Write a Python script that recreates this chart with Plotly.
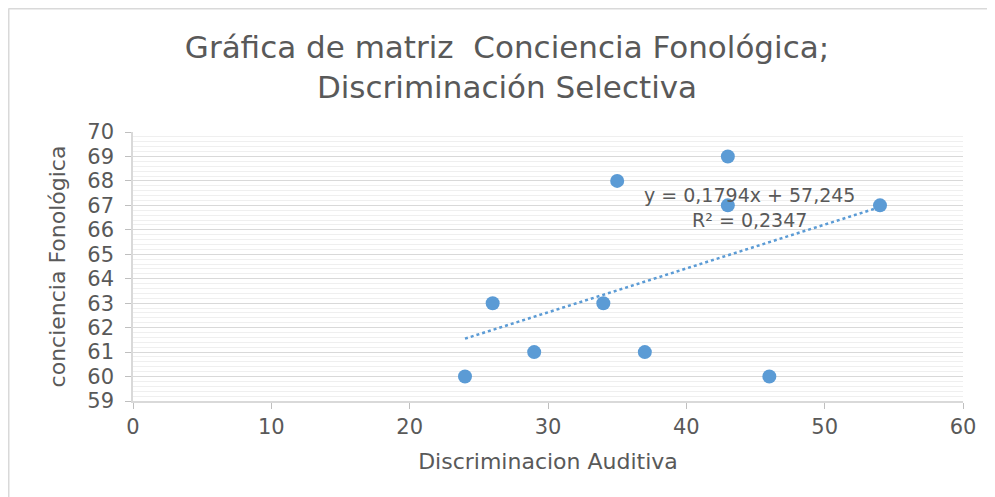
import numpy as np
import plotly.graph_objects as go

# Data
discriminacion_auditiva = [24, 26, 29, 34, 35, 37, 43, 43, 46, 54]
conciencia_fonologica = [60, 63, 61, 63, 68, 61, 69, 67, 60, 67]

title_text = "Gráfica de matriz  Conciencia Fonológica;<br>Discriminación Selectiva"
x_title = "Discriminacion Auditiva"
y_title = "conciencia Fonológica"
equation_text = "y = 0,1794x + 57,245<br>R² = 0,2347"

x = np.array(discriminacion_auditiva, dtype=float)
y = np.array(conciencia_fonologica, dtype=float)
slope, intercept = np.polyfit(x, y, 1)
trend_x = np.linspace(x.min(), x.max(), 50)
trend_y = slope * trend_x + intercept

BLUE = "#5b9bd5"
TEXT = "#595959"
FONT = "DejaVu Sans"

fig = go.Figure()
fig.add_trace(go.Scatter(
    x=trend_x, y=trend_y, mode="lines",
    line=dict(color=BLUE, width=2.5, dash="dot"),
    hoverinfo="skip", showlegend=False,
))
fig.add_trace(go.Scatter(
    x=discriminacion_auditiva, y=conciencia_fonologica, mode="markers",
    marker=dict(color=BLUE, size=14, line=dict(width=0)),
    showlegend=False,
))

fig.add_annotation(
    x=44.6, y=66.9, xref="x", yref="y", text=equation_text,
    showarrow=False, align="center",
    font=dict(family=FONT, size=19, color=TEXT),
)

# page body has an 8px margin, so figure coordinates are offset by 8px
FW, FH = 987, 489
L, T, W, H = 125, 124, 830, 269
fx0 = (0.5 - L) / W
fy1 = 1 + (T - 0.5) / H
fig.add_shape(type="line", xref="paper", yref="paper", x0=fx0, x1=fx0, y0=-1, y1=fy1,
              line=dict(color="#d9d9d9", width=2))
fig.add_shape(type="line", xref="paper", yref="paper", x0=fx0, x1=2, y0=fy1, y1=fy1,
              line=dict(color="#d9d9d9", width=2))

fig.update_layout(
    width=FW, height=FH,
    margin=dict(l=L, r=FW - L - W, t=T, b=FH - T - H, autoexpand=False),
    paper_bgcolor="white", plot_bgcolor="white",
    title=dict(text=title_text, x=(507 - 8) / FW, xanchor="center",
               yref="container", y=1 - 50 / FH, yanchor="middle",
               font=dict(family=FONT, size=31, color=TEXT)),
    font=dict(family=FONT, color=TEXT),
    xaxis=dict(
        range=[0, 60], dtick=10, showgrid=False, zeroline=False, automargin=False,
        showline=True, linecolor="#d9d9d9", linewidth=1.5,
        ticks="outside", ticklen=6, tickcolor="#bfbfbf",
        tickfont=dict(family=FONT, size=21, color=TEXT),
        title=dict(text=x_title, font=dict(family=FONT, size=22, color=TEXT), standoff=16),
    ),
    yaxis=dict(
        range=[59, 70], dtick=1, showgrid=True, gridcolor="#d9d9d9", gridwidth=1,
        minor=dict(dtick=0.2, showgrid=True, gridcolor="#efefef", gridwidth=1),
        zeroline=False, showline=True, linecolor="#d9d9d9", linewidth=1.5, automargin=False,
        ticks="outside", ticklen=6, tickcolor="#bfbfbf", ticklabelstandoff=7,
        tickfont=dict(family=FONT, size=21, color=TEXT),
        title=dict(text=y_title, font=dict(family=FONT, size=22, color=TEXT), standoff=16),
    ),
)

fig.write_html("out.html")
